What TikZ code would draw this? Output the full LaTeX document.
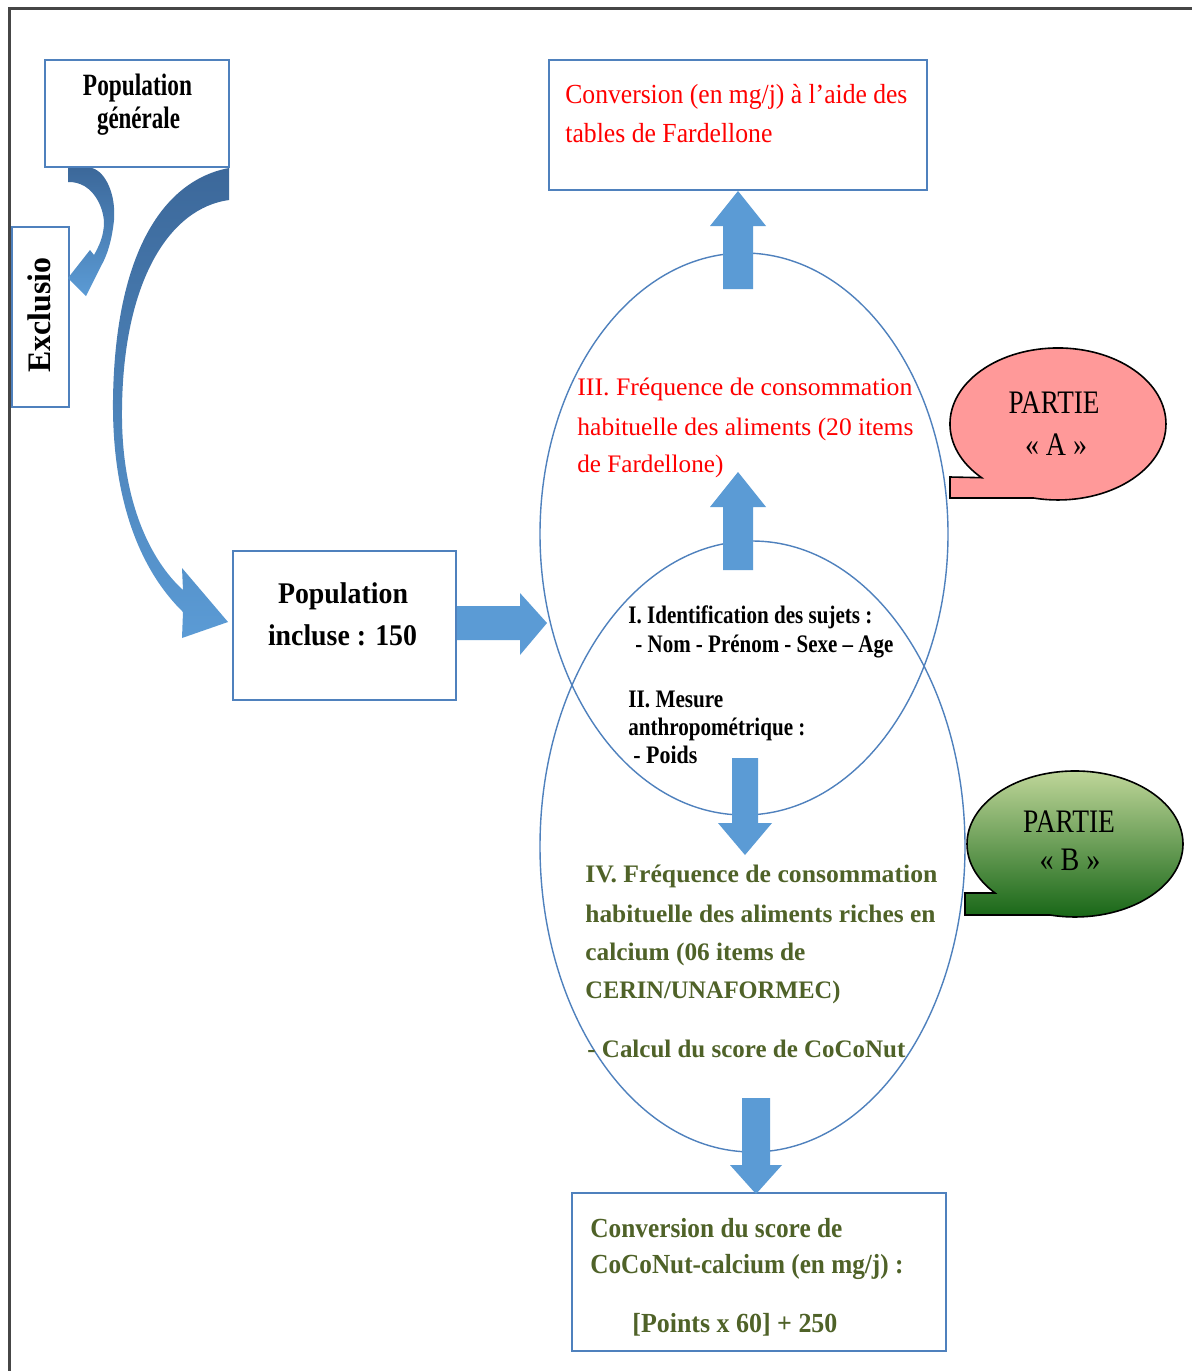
\documentclass[tikz,border=0pt]{standalone}
\usepackage{fontspec}
\setmainfont{Liberation Serif}
\usepackage{graphicx}
\usetikzlibrary{shapes.geometric,fit}
\definecolor{bordblue}{RGB}{79,129,189}
\definecolor{arrblue}{RGB}{91,155,213}
\definecolor{arrdark}{RGB}{60,104,154}
\definecolor{olivetxt}{RGB}{79,98,40}
\definecolor{pinkA}{RGB}{255,153,153}
\definecolor{greenTop}{RGB}{200,220,160}
\definecolor{greenBot}{RGB}{20,100,20}
\definecolor{framegray}{RGB}{70,70,70}
\newdimen\pxu \pxu=0.5pt
\newcommand\wx[2]{\resizebox{#1\pxu}{\height}{#2}}
\newcommand\fs[1]{\fontsize{#1}{#1}\selectfont}
\begin{document}
\begin{tikzpicture}[x=0.5pt,y=0.5pt,
  box/.style={draw=bordblue,line width=1pt,inner sep=0pt,fill=white},
  txt/.style={inner sep=0pt,anchor=base west},
  txc/.style={inner sep=0pt,anchor=base},
  oval/.style={draw=bordblue,line width=0.7pt,ellipse,inner sep=0pt},
  blk/.style={fill=arrblue},
  curv/.style={top color=arrdark,bottom color=arrblue,draw=none}]
\useasboundingbox (0,0) rectangle (1192,-1371);
\fill[white] (0,0) rectangle (1192,-1371);
\draw[framegray,line width=1.5pt] (9,-1371) -- (9,-8) -- (1192,-8);

% boxes
\node[box,fit={(45,-60) (229,-167)}] (popgen) {};
\node[box,fit={(12,-227) (69,-407)}] (excl) {};
\node[box,fit={(549,-60) (927,-190)}] (conv) {};
\node[box,fit={(233,-551) (456,-700)}] (popinc) {};
\node[box,fit={(572,-1193) (946,-1351)}] (score) {};

% ellipses
\node[oval,minimum width=204pt,minimum height=281pt] (ellA) at (744,-534) {};
\node[oval,minimum width=212.5pt,minimum height=305.5pt] (ellB) at (752.5,-846.5) {};

% curved arrows
\shade[curv] (229,-200) .. controls (170,-208) and (123,-280) .. (122,-410)
  .. controls (121,-500) and (150,-560) .. (183,-590)
  -- (182,-568) -- (228,-622) -- (182,-638) -- (183,-612)
  .. controls (140,-570) and (112,-500) .. (113,-400)
  .. controls (115,-250) and (165,-180) .. (229,-168) -- cycle;
\shade[curv] (68,-168) -- (92,-168) .. controls (106,-172) and (116,-195) .. (114,-220)
  .. controls (112,-240) and (107,-256) .. (101,-266)
  -- (86,-296) -- (68,-278) -- (90,-250) -- (94,-255)
  .. controls (99,-246) and (104,-236) .. (104,-222)
  .. controls (103,-204) and (92,-188) .. (80,-184)
  .. controls (75,-182) and (70,-182) .. (68,-182) -- cycle;

% block arrows
\fill[blk] (723,-289) -- (723,-226) -- (710,-226) -- (conv.south) -- (766,-226) -- (753,-226) -- (753,-289) -- cycle;
\fill[blk] (723,-570) -- (723,-507) -- (710,-507) -- (738,-472) -- (766,-507) -- (753,-507) -- (753,-570) -- cycle;
\fill[blk] (732,-758) -- (732,-823) -- (718,-823) -- (745,-855) -- (772,-823) -- (758,-823) -- (758,-758) -- cycle;
\fill[blk] (742,-1098) -- (742,-1165) -- (730,-1165) -- (756,-1194) -- (782,-1165) -- (770,-1165) -- (770,-1098) -- cycle;
\fill[blk] (popinc.east |- 0,-606) -- (520,-606) -- (520,-593) -- (547,-623) -- (520,-655) -- (520,-640) -- (popinc.east |- 0,-640) -- cycle;

% callouts
\filldraw[fill=pinkA,draw=black,line width=0.8pt] (950,-477) -- (981.6,-477.7)
  arc[start angle=225,end angle=-103,x radius=54pt,y radius=38pt] -- (950,-498) -- cycle;
\shadedraw[top color=greenTop,bottom color=greenBot,draw=black,line width=0.8pt] (965,-893) -- (995,-893)
  arc[start angle=222.2,end angle=-103.4,x radius=54pt,y radius=36.5pt] -- (965,-915) -- cycle;

% texts
\node[txc,font=\fs{15.5}\bfseries] (pg1) at (137.5,-95) {\wx{109}{Population}};
\node[txc,font=\fs{15.5}\bfseries] (pg2) at (138.5,-128) {\wx{83}{générale}};
\node[rotate=90,inner sep=0pt,font=\fs{16.4}\bfseries] (exc) at (39,-315) {\wx{115}{Exclusio}};

\node[txt,red,font=\fs{13.8}] (c1) at (565,-103) {\wx{342}{Conversion (en mg/j) à l’aide des}};
\node[txt,red,font=\fs{13.8}] (c2) at (565,-142) {\wx{207}{tables de Fardellone}};

\node[txt,red,font=\fs{12.6}] (f1) at (577,-395) {\wx{335}{III. Fréquence de consommation}};
\node[txt,red,font=\fs{12.6}] (f2) at (577,-435) {\wx{336}{habituelle des aliments (20 items}};
\node[txt,red,font=\fs{12.6}] (f3) at (577,-472) {\wx{146}{de Fardellone)}};

\node[txt,font=\fs{12.6}\bfseries] (i1) at (628,-623) {\wx{244}{I. Identification des sujets :}};
\node[txt,font=\fs{12.6}\bfseries] (i2) at (635,-652) {\wx{258}{- Nom - Prénom - Sexe – Age}};
\node[txt,font=\fs{12.6}\bfseries] (i3) at (628,-707) {\wx{95}{II. Mesure}};
\node[txt,font=\fs{12.6}\bfseries] (i4) at (628,-735) {\wx{177}{anthropométrique :}};
\node[txt,font=\fs{12.6}\bfseries] (i5) at (633,-763) {\wx{64}{- Poids}};

\node[txc,font=\fs{15}\bfseries] (pi1) at (343,-603) {\wx{130}{Population}};
\node[txc,font=\fs{15}\bfseries] (pi2) at (342.5,-645) {\wx{149}{incluse : 150}};

\node[txt,olivetxt,font=\fs{12.6}\bfseries] (g1) at (585,-882) {\wx{352}{IV. Fréquence de consommation}};
\node[txt,olivetxt,font=\fs{12.6}\bfseries] (g2) at (585,-922) {\wx{350}{habituelle des aliments riches en}};
\node[txt,olivetxt,font=\fs{12.6}\bfseries] (g3) at (585,-960) {\wx{220}{calcium (06 items de}};
\node[txt,olivetxt,font=\fs{12.6}\bfseries] (g4) at (585,-998) {\wx{255}{CERIN/UNAFORMEC)}};
\node[txt,olivetxt,font=\fs{12.6}\bfseries] (g5) at (587,-1057) {\wx{318}{- Calcul du score de CoCoNut}};

\node[txt,olivetxt,font=\fs{13.8}\bfseries] (s1) at (590,-1237) {\wx{252}{Conversion du score de}};
\node[txt,olivetxt,font=\fs{13.8}\bfseries] (s2) at (590,-1273) {\wx{313}{CoCoNut-calcium  (en mg/j) :}};
\node[txt,olivetxt,font=\fs{13.8}\bfseries] (s3) at (632,-1332) {\wx{205}{[Points x 60] + 250}};

\node[txc,font=\fs{16.4}] (pa1) at (1054,-413) {\wx{91}{PARTIE}};
\node[txc,font=\fs{16.4}] (pa2) at (1056,-455) {\wx{62}{« A »}};
\node[txc,font=\fs{16.4}] (pb1) at (1069,-832) {\wx{92}{PARTIE}};
\node[txc,font=\fs{16.4}] (pb2) at (1070,-870) {\wx{61}{« B »}};
\end{tikzpicture}
\end{document}
